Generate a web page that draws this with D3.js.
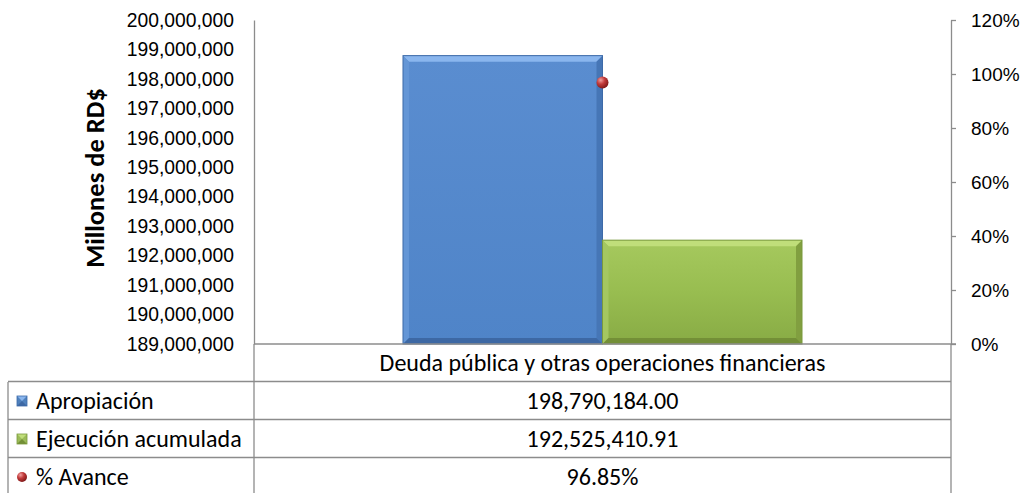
<!DOCTYPE html>
<html><head><meta charset="utf-8">
<script src="https://cdn.jsdelivr.net/npm/d3@7"></script>
<style>
body{margin:0;background:#fff;}
svg{display:block;font-family:Carlito, Lato, "Open Sans", sans-serif;}
</style></head>
<body>
<svg id="c" width="1021" height="493"></svg>
<script>
const categories = ["Deuda pública y otras operaciones financieras"];
const seriesNames = ["Apropiación", "Ejecución acumulada", "% Avance"];
const apropiacion = [198790184.00];
const ejecucion = [192525410.91];
const avance = [96.85];
const leftTicks = [189000000,190000000,191000000,192000000,193000000,194000000,195000000,196000000,197000000,198000000,199000000,200000000];
const rightTicks = [0,20,40,60,80,100,120];
const tableText = [["198,790,184.00"],["192,525,410.91"],["96.85%"]];

const svg = d3.select("#c");
const L = 254, R = 951, T = 20, B = 344;
const rowH = 38;
const grey = "#8c8c8c";
const tableFont = 24;

const defs = svg.append("defs");
function lin(id, stops, x1=0,y1=0,x2=0,y2=1){
  const g = defs.append("linearGradient").attr("id",id).attr("x1",x1).attr("y1",y1).attr("x2",x2).attr("y2",y2);
  stops.forEach(s=>g.append("stop").attr("offset",s[0]).attr("stop-color",s[1]));
}
lin("blueMain",[[0,"#5a8dd0"],[1,"#4f84c8"]]);
lin("greenMain",[[0,"#a6c95e"],[0.5,"#98bd50"],[1,"#88ab45"]]);
const rg = defs.append("radialGradient").attr("id","ball").attr("cx","0.35").attr("cy","0.3").attr("r","0.75");
rg.append("stop").attr("offset",0).attr("stop-color","#f0a0a0");
rg.append("stop").attr("offset",0.45).attr("stop-color","#c23b3b");
rg.append("stop").attr("offset",1).attr("stop-color","#7a1515");

const y = d3.scaleLinear().domain([189000000,200000000]).range([B,T]);
const y2 = d3.scaleLinear().domain([0,120]).range([B,T]);
const x0 = d3.scaleBand().domain(categories).range([L,R]).paddingInner(0).paddingOuter(0.3734);
const x1 = d3.scaleBand().domain([0,1]).range([0,x0.bandwidth()]);

// left axis
const yAx = svg.append("g").attr("transform",`translate(${L},0)`)
  .call(d3.axisLeft(y).tickValues(leftTicks).tickSize(0).tickPadding(20).tickFormat(d3.format(",")));
yAx.select(".domain").attr("stroke",grey).attr("stroke-width",1.3);
yAx.selectAll("text").attr("font-size",19.3).attr("fill","#000");

// right axis
const y2Ax = svg.append("g").attr("transform",`translate(${R},0)`)
  .call(d3.axisRight(y2).tickValues(rightTicks).tickSize(5).tickSizeOuter(0).tickPadding(15).tickFormat(d=>d+"%"));
y2Ax.select(".domain").attr("stroke",grey).attr("stroke-width",1.3);
y2Ax.selectAll(".tick line").attr("stroke",grey).attr("stroke-width",1.3);
y2Ax.selectAll("text").attr("font-size",19).attr("fill","#000");

// y title
svg.append("text").attr("transform",`translate(104,${178}) rotate(-90)`)
  .attr("text-anchor","middle").attr("font-size",26.5).attr("font-weight","bold").text("Millones de RD$");

// beveled bar
function bevelBar(g, x, yTop, w, h, c){
  const b = 6;
  g.append("rect").attr("x",x).attr("y",yTop).attr("width",w).attr("height",h).attr("fill",c.main);
  g.append("polygon").attr("points",[[x,yTop],[x+w,yTop],[x+w-b,yTop+b],[x+b,yTop+b]].join(" ")).attr("fill",c.top);
  g.append("polygon").attr("points",[[x,yTop],[x+b,yTop+b],[x+b,yTop+h-b],[x,yTop+h]].join(" ")).attr("fill",c.left);
  g.append("polygon").attr("points",[[x+w,yTop],[x+w-b,yTop+b],[x+w-b,yTop+h-b],[x+w,yTop+h]].join(" ")).attr("fill",c.right);
  g.append("polygon").attr("points",[[x,yTop+h],[x+b,yTop+h-b],[x+w-b,yTop+h-b],[x+w,yTop+h]].join(" ")).attr("fill",c.bottom);
  g.append("rect").attr("x",x).attr("y",yTop).attr("width",w).attr("height",h).attr("fill","none").attr("stroke",c.edge).attr("stroke-width",1);
}
const blue = {main:"url(#blueMain)",top:"#8ab6ee",left:"#6496d6",right:"#4676b6",bottom:"#3d68a4",edge:"#3d6aa8"};
const green = {main:"url(#greenMain)",top:"#c0de7a",left:"#a4c761",right:"#819f40",bottom:"#738f37",edge:"#7a9a3e"};

const bars = svg.append("g");
categories.forEach((cat,i)=>{
  const xs = x0(cat);
  bevelBar(bars, xs + x1(0), y(apropiacion[i]), x1.bandwidth(), B - y(apropiacion[i]), blue);
  bevelBar(bars, xs + x1(1), y(ejecucion[i]), x1.bandwidth(), B - y(ejecucion[i]), green);
});

// point
categories.forEach((cat,i)=>{
  svg.append("circle").attr("cx",x0(cat)+x0.bandwidth()/2).attr("cy",y2(avance[i])).attr("r",6).attr("fill","url(#ball)");
});

// table
const tg = svg.append("g").attr("stroke",grey).attr("stroke-width",1.3);
const tX0 = 8;
tg.append("line").attr("x1",L).attr("x2",R+5).attr("y1",B).attr("y2",B);
for(let k=1;k<=4;k++){
  tg.append("line").attr("x1",tX0).attr("x2",R).attr("y1",B+rowH*k-0.5).attr("y2",B+rowH*k-0.5);
}
tg.append("line").attr("x1",tX0).attr("x2",tX0).attr("y1",B+rowH).attr("y2",B+rowH*4);
tg.append("line").attr("x1",L).attr("x2",L).attr("y1",B).attr("y2",B+rowH*4);
tg.append("line").attr("x1",R).attr("x2",R).attr("y1",B).attr("y2",B+rowH*4);

const cx = (L+R)/2;
svg.append("text").attr("x",cx).attr("y",B+rowH/2+8).attr("text-anchor","middle").attr("font-size",tableFont).text(categories[0]);
tableText.forEach((r,k)=>{
  svg.append("text").attr("x",cx).attr("y",B+rowH*(k+1)+rowH/2+8).attr("text-anchor","middle").attr("font-size",tableFont).text(r[0]);
});

// legend keys
seriesNames.forEach((n,k)=>{
  const yc = B+rowH*(k+1)+rowH/2;
  if(k<2){
    const c = k===0?blue:green;
    const g = svg.append("g");
    g.append("rect").attr("x",17).attr("y",yc-5).attr("width",10).attr("height",10).attr("fill",k===0?"#4f81bd":"#9bbb59");
    g.append("polygon").attr("points",[[17,yc-5],[27,yc-5],[22,yc]].join(" ")).attr("fill",c.top);
    g.append("polygon").attr("points",[[17,yc+5],[27,yc+5],[22,yc]].join(" ")).attr("fill",c.bottom);
    g.append("rect").attr("x",17).attr("y",yc-5).attr("width",10).attr("height",10).attr("fill","none").attr("stroke",c.edge).attr("stroke-width",0.8);
  } else {
    svg.append("circle").attr("cx",22).attr("cy",yc).attr("r",5).attr("fill","url(#ball)");
  }
  svg.append("text").attr("x",36).attr("y",yc+8).attr("font-size",tableFont).text(n);
});
</script>
</body></html>
